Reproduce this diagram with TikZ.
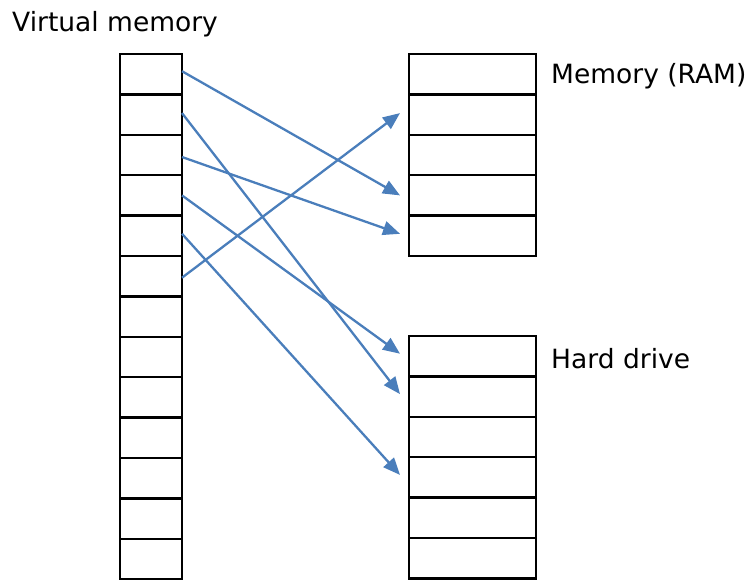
\documentclass[tikz,border=0pt]{standalone}
\usepackage{fontspec}
\setmainfont{DejaVu Sans}
\usetikzlibrary{arrows.meta}
\definecolor{lnblue}{RGB}{74,126,187}
\begin{document}
\begin{tikzpicture}[x=1pt,y=-1pt,
  vcell/.style={draw=black,line width=2.4pt,minimum width=62pt,minimum height=40.4pt,inner sep=0pt,outer sep=0pt,anchor=north west},
  mcell/.style={draw=black,line width=2.4pt,minimum width=127pt,minimum height=40.4pt,inner sep=0pt,outer sep=0pt,anchor=north west},
  lbl/.style={font=\fontsize{26.5}{30}\selectfont,anchor=base west,inner sep=0pt},
  link/.style={draw=lnblue,line width=2.3pt,-{Triangle[length=17pt,width=14pt]}}]
\useasboundingbox (0,0) rectangle (753,579);
\foreach \i in {1,...,13} {
  \node[vcell] (v\i) at (120,{54+(\i-1)*40.4}) {};
}
\foreach \i in {1,...,5} {
  \node[mcell] (r\i) at (409,{54+(\i-1)*40.4}) {};
}
\foreach \i in {1,...,6} {
  \node[mcell] (h\i) at (409,{336+(\i-1)*40.4}) {};
}
\node[lbl] (tv) at (12,31.7) {Virtual memory};
\node[lbl] (tr) at (551,83.3) {Memory (RAM)};
\node[lbl] (th) at (551,368.3) {Hard drive};
\draw[link] ([yshift=3pt]v1.east) -- ([xshift=-9pt]r4.west);
\draw[link] ([yshift=1.5pt]v2.east) -- ([xshift=-9pt,yshift=2.5pt]h2.west);
\draw[link] ([yshift=-2pt]v3.east) -- ([xshift=-9pt,yshift=2pt]r5.west);
\draw[link] (v4.east) -- ([xshift=-9pt,yshift=2.5pt]h1.west);
\draw[link] ([yshift=2pt]v5.east) -- ([xshift=-9pt,yshift=2.5pt]h4.west);
\draw[link] ([yshift=-1.5pt]v6.east) -- ([xshift=-9pt,yshift=1.5pt]r2.west);
\end{tikzpicture}
\end{document}
